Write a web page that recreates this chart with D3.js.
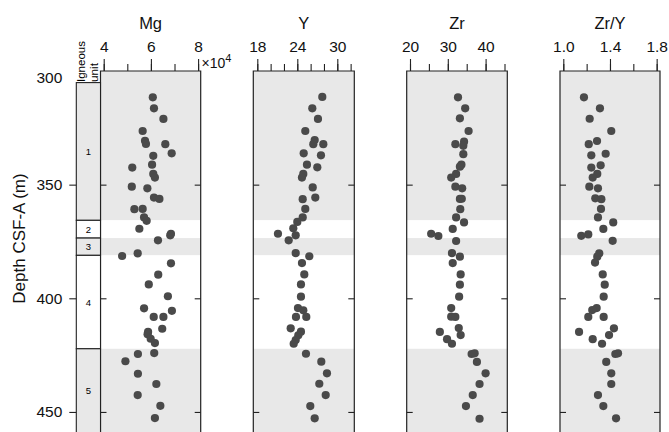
<!DOCTYPE html>
<html><head><meta charset="utf-8">
<script src="https://cdn.jsdelivr.net/npm/d3@7"></script>
<style>body{margin:0;background:#fff}svg{display:block;font-family:"Liberation Sans",Arial,Helvetica,sans-serif}</style>
</head><body><svg id="c" width="669" height="432"></svg>
<script>
// ---- Igneous units ----
const unitNames   = ["1", "2", "3", "4", "5"];
const unitTop     = [305.1, 365.7, 373.5, 381.1, 422.2];
const unitBottom  = [365.7, 373.5, 381.1, 422.2, 459.4];
const unitShaded  = [true, false, true, false, true];

// ---- depth axis ----
const depthTicks = [300, 350, 400, 450];

// ---- Mg (x10^4) ----
const mgDepth = [311.6,316.4,321.1,326.4,330.7,332.1,332.2,336.2,337.3,341.2,342.5,345.3,346.9,350.9,351.6,355.7,356.3,360.8,360.7,364.4,365.9,369.4,371.6,372.3,374.5,380.2,381.4,384.6,389.6,393.9,399.1,404.4,405.5,408.2,408.2,413.4,414.8,415.8,417.8,419.7,424.1,424.5,427.7,433.2,437.7,442.6,447.3,452.7];
const mgValue = [6.08,6.13,6.53,5.65,5.75,5.79,6.61,6.88,6.10,6.05,5.21,6.10,6.17,5.19,5.85,6.13,6.36,5.30,5.65,5.71,5.82,5.51,6.85,6.82,6.30,5.44,4.78,6.85,6.31,5.91,6.72,5.71,6.89,6.12,6.53,6.48,5.88,5.86,5.99,6.17,6.14,5.45,4.92,5.45,6.23,5.44,6.40,6.17];
const mgTicks = [4, 5, 6, 7, 8];
const mgLabels = [4, 6, 8];

// ---- Y ----
const yDepth = [311.4,316.4,321.1,326.4,330.4,332.2,332.2,336.2,337.1,341.2,342.4,345.3,346.9,351.2,355.7,356.4,360.7,364.4,366.4,369.2,371.6,372.3,374.5,380.1,381.5,384.5,389.5,393.9,399.3,404.3,405.3,408.2,408.2,413.2,414.7,416.3,418.4,420.0,424.4,427.9,433.0,437.6,442.6,447.4,452.8];
const yValue = [27.75,26.25,27.10,25.20,26.61,26.40,27.90,24.96,27.55,25.45,27.00,24.90,24.70,26.31,26.70,24.81,25.20,24.81,24.00,23.40,21.10,23.76,22.71,23.76,25.80,24.70,25.05,24.55,24.55,24.10,24.90,23.80,25.35,23.01,24.55,24.15,23.76,23.46,25.30,27.60,28.45,27.30,28.26,25.95,26.61];
const yTicks = [18, 20, 22, 24, 26, 28, 30, 32];
const yLabels = [18, 24, 30];

// ---- Zr ----
const zrDepth = [311.6,316.4,320.8,326.4,331.1,332.2,332.9,336.6,341.2,342.1,345.3,346.9,350.9,351.6,356.3,356.2,360.8,364.4,366.6,369.5,371.6,372.6,374.8,380.1,381.7,384.5,389.5,394.0,399.3,404.3,408.1,408.2,413.1,414.8,416.2,418.0,420.0,424.5,424.2,428.0,433.0,437.7,442.6,447.4,453.0];
const zrValue = [32.7,34.6,33.2,35.5,34.3,32.0,34.1,34.1,33.6,33.2,32.2,30.9,32.0,33.8,33.2,33.7,33.3,32.2,34.3,31.3,25.6,27.5,32.2,31.1,33.2,31.3,33.4,33.2,33.0,30.9,30.9,32.0,32.9,27.9,33.4,29.8,31.1,36.3,37.1,37.7,40.0,38.4,36.6,34.8,38.4];
const zrTicks = [20, 25, 30, 35, 40, 45];
const zrLabels = [20, 30, 40];

// ---- Zr/Y ----
const zrYDepth = [311.6,316.4,321.0,326.4,330.8,332.2,336.4,337.1,341.5,342.5,345.3,346.9,350.9,351.6,356.0,356.4,360.7,364.4,366.6,369.5,371.9,372.5,374.7,380.2,381.7,384.3,389.5,394.0,399.3,404.3,405.2,408.2,408.2,413.2,414.8,416.2,418.0,420.0,424.5,424.2,428.0,433.0,437.7,442.6,447.4,452.8];
const zrYValue = [1.177,1.314,1.226,1.411,1.289,1.218,1.363,1.240,1.320,1.240,1.291,1.252,1.223,1.297,1.274,1.326,1.323,1.297,1.428,1.343,1.214,1.154,1.423,1.308,1.291,1.272,1.338,1.355,1.346,1.286,1.248,1.214,1.346,1.434,1.135,1.392,1.252,1.332,1.446,1.469,1.368,1.411,1.411,1.297,1.343,1.452];
const zrYTicks = [1.0, 1.2, 1.4, 1.6, 1.8];
const zrYLabels = [1.0, 1.4, 1.8];

const panels = [
  {title: "Mg",   depth: mgDepth,  value: mgValue,  ticks: mgTicks,  labels: mgLabels,  domain: [3.864, 8.11],  range: [100.5, 200.7], fmt: d3.format("d")},
  {title: "Y",    depth: yDepth,   value: yValue,   ticks: yTicks,   labels: yLabels,   domain: [17.4, 32.55],  range: [253.3, 354.3], fmt: d3.format("d")},
  {title: "Zr",   depth: zrDepth,  value: zrValue,  ticks: zrTicks,  labels: zrLabels,  domain: [19.127, 45.74], range: [406.7, 507.3], fmt: d3.format("d")},
  {title: "Zr/Y", depth: zrYDepth, value: zrYValue, ticks: zrYTicks, labels: zrYLabels, domain: [0.9717, 1.8286], range: [560, 660], fmt: d3.format(".1f")}
];

const svg = d3.select("#c");
const GRAY = "#e8e8e8", DOT = "#4a4a4a", INK = "#222";
const y = d3.scaleLinear().domain([300, 459]).range([71, 432.4]);
const bandTop = unitTop.map((t, i) => i === 0 ? 300 : t);

function clean(sel) { sel.select(".domain").remove(); }

panels.forEach(p => {
  const x = d3.scaleLinear().domain(p.domain).range(p.range);
  const g = svg.append("g");
  g.selectAll("rect.band").data(unitNames).join("rect").attr("class", "band")
    .attr("x", p.range[0]).attr("width", p.range[1] - p.range[0])
    .attr("y", (d, i) => y(bandTop[i]))
    .attr("height", (d, i) => y(unitBottom[i]) - y(bandTop[i]))
    .attr("fill", (d, i) => unitShaded[i] ? GRAY : "#fff");

  g.selectAll("circle").data(p.value).join("circle")
    .attr("cx", d => x(d)).attr("cy", (d, i) => y(p.depth[i]))
    .attr("r", 4.1).attr("fill", DOT);

  const top = y(300);
  g.append("path")
    .attr("d", `M${p.range[0]},440V${top}H${p.range[1]}V440`)
    .attr("fill", "none").attr("stroke", INK).attr("stroke-width", 1.2);

  const minor = g.append("g").attr("transform", `translate(0,${top})`)
    .call(d3.axisTop(x).tickValues(p.ticks).tickSize(7).tickFormat(""));
  clean(minor);
  const major = g.append("g").attr("transform", `translate(0,${top})`)
    .call(d3.axisTop(x).tickValues(p.labels).tickSize(12).tickPadding(7).tickFormat(p.fmt));
  clean(major);
  [minor, major].forEach(a => {
    a.attr("font-family", null);
    a.selectAll("line").attr("stroke", INK).attr("stroke-width", 1.1);
    a.selectAll("text").attr("fill", "#111").style("font-size", "15.5px");
  });

  const lt = g.append("g").attr("transform", `translate(${p.range[0]},0)`)
    .call(d3.axisRight(y).tickValues([350, 400, 450]).tickSize(6).tickFormat(""));
  const rt = g.append("g").attr("transform", `translate(${p.range[1]},0)`)
    .call(d3.axisLeft(y).tickValues([350, 400, 450]).tickSize(6).tickFormat(""));
  [lt, rt].forEach(a => { clean(a); a.selectAll("line").attr("stroke", INK).attr("stroke-width", 1.1); });

  g.append("text").attr("x", (p.range[0] + p.range[1]) / 2).attr("y", 29)
    .attr("text-anchor", "middle").style("font-size", "16.5px").attr("fill", "#111").text(p.title);
});

const mult = svg.append("text").attr("x", 201.5).attr("y", 68).style("font-size", "14px").attr("fill", "#111");
mult.append("tspan").text("\u00d710");
mult.append("tspan").attr("dy", -6).style("font-size", "11px").text("4");

const ux0 = 76.3, ux1 = 100.5;
const ug = svg.append("g");
ug.selectAll("rect").data(unitNames).join("rect")
  .attr("x", ux0).attr("width", ux1 - ux0)
  .attr("y", (d, i) => y(unitTop[i])).attr("height", (d, i) => y(unitBottom[i]) - y(unitTop[i]))
  .attr("fill", (d, i) => unitShaded[i] ? GRAY : "#fff")
  .attr("stroke", INK).attr("stroke-width", 1.1);
ug.selectAll("text").data(unitNames).join("text")
  .attr("x", (ux0 + ux1) / 2)
  .attr("y", (d, i) => (y(unitTop[i]) + Math.min(y(unitBottom[i]), 433)) / 2 + 3.5)
  .attr("text-anchor", "middle").style("font-size", "9.5px").attr("fill", "#000").text(d => d);

svg.append("text").attr("transform", "translate(84.5,82) rotate(-90)")
  .attr("textLength", 41).attr("lengthAdjust", "spacingAndGlyphs")
  .style("font-size", "10.5px").attr("fill", "#000").text("Igneous");
svg.append("text").attr("transform", "translate(97.5,82) rotate(-90)")
  .attr("textLength", 19).attr("lengthAdjust", "spacingAndGlyphs")
  .style("font-size", "10.5px").attr("fill", "#000").text("unit");

const da = svg.append("g").attr("transform", `translate(${ux0},0)`)
  .call(d3.axisLeft(y).tickValues(depthTicks).tickSize(7).tickPadding(7).tickFormat(d3.format("d")));
clean(da);
da.attr("font-family", null);
da.selectAll("line").attr("stroke", INK).attr("stroke-width", 1.1);
da.selectAll("text").attr("fill", "#111").style("font-size", "15.5px");
da.selectAll(".tick").filter(d => d === 300).select("line").remove();
da.selectAll(".tick").filter(d => d === 300).select("text").attr("dy", "0.75em");

svg.append("text").attr("transform", "translate(25,238.5) rotate(-90)")
  .attr("text-anchor", "middle").style("font-size", "17px").attr("fill", "#111")
  .text("Depth CSF-A (m)");
</script>
</body></html>
